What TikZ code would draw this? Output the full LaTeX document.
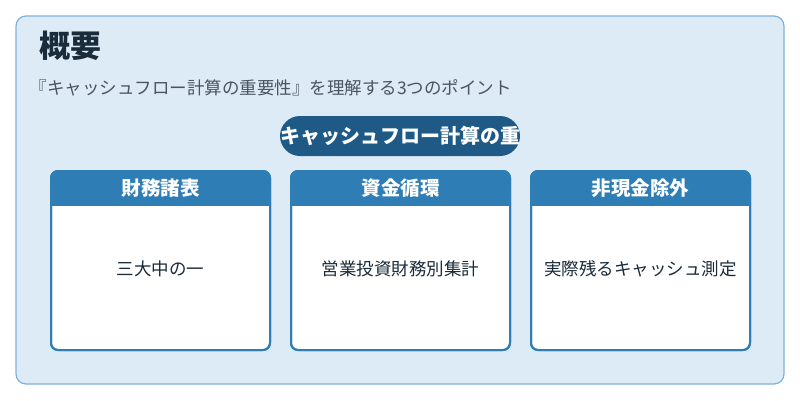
\documentclass[tikz,border=0pt]{standalone}
\usepackage{fontspec}
\newfontfamily\cjk{Noto Sans CJK JP}
\definecolor{bgc}{HTML}{DCEBF6}
\definecolor{bdc}{HTML}{7FB3D8}
\definecolor{hdc}{HTML}{2E7DB5}
\definecolor{pill}{HTML}{1F5A87}
\definecolor{ttl}{HTML}{1A2B3A}
\definecolor{sub}{HTML}{4A5560}
\tikzset{
 card/.style={draw=hdc,line width=2pt,fill=white,rounded corners=7pt},
 head/.style={text=white,font=\cjk\bfseries\fontsize{19.5}{22}\selectfont},
 body/.style={text=ttl,font=\cjk\fontsize{17.5}{20}\selectfont}
}
\begin{document}
\begin{tikzpicture}[x=1pt,y=-1pt]
\useasboundingbox (0,0) rectangle (800,400);
\fill[white] (0,0) rectangle (800,400);
\draw[bdc,fill=bgc,line width=1.2pt,rounded corners=10pt] (16,16) rectangle (784,384);
\node[anchor=west,text=ttl,font=\cjk\bfseries\fontsize{31}{34}\selectfont] (title) at (36,46) {概要};
\node[anchor=west,text=sub,font=\cjk\fontsize{17.5}{20}\selectfont] (subt) at (26,88) {『キャッシュフロー計算の重要性』を理解する3つのポイント};
\fill[pill,rounded corners=20pt] (280,116) rectangle (520,156);
\node[text=white,font=\cjk\bfseries\fontsize{20}{22}\selectfont] (pl) at (400,136) {キャッシュフロー計算の重};
\foreach \x/\h/\b/\n in {51/財務諸表/三大中の一/a,291/資金循環/営業投資財務別集計/b,531/非現金除外/実際残るキャッシュ測定/c}{
 \draw[card] (\x,171) rectangle ++(219,179);
 \begin{scope}
 \clip[rounded corners=7pt] (\x,171) rectangle ++(219,179);
 \fill[hdc] (\x,171) rectangle ++(219,35);
 \end{scope}
 \draw[hdc,line width=2pt,rounded corners=7pt] (\x,171) rectangle ++(219,179);
 \node[head] (h\n) at (\x+109.5,188.5) {\h};
 \node[body] (b\n) at (\x+109.5,269) {\b};
}
\end{tikzpicture}
\end{document}
